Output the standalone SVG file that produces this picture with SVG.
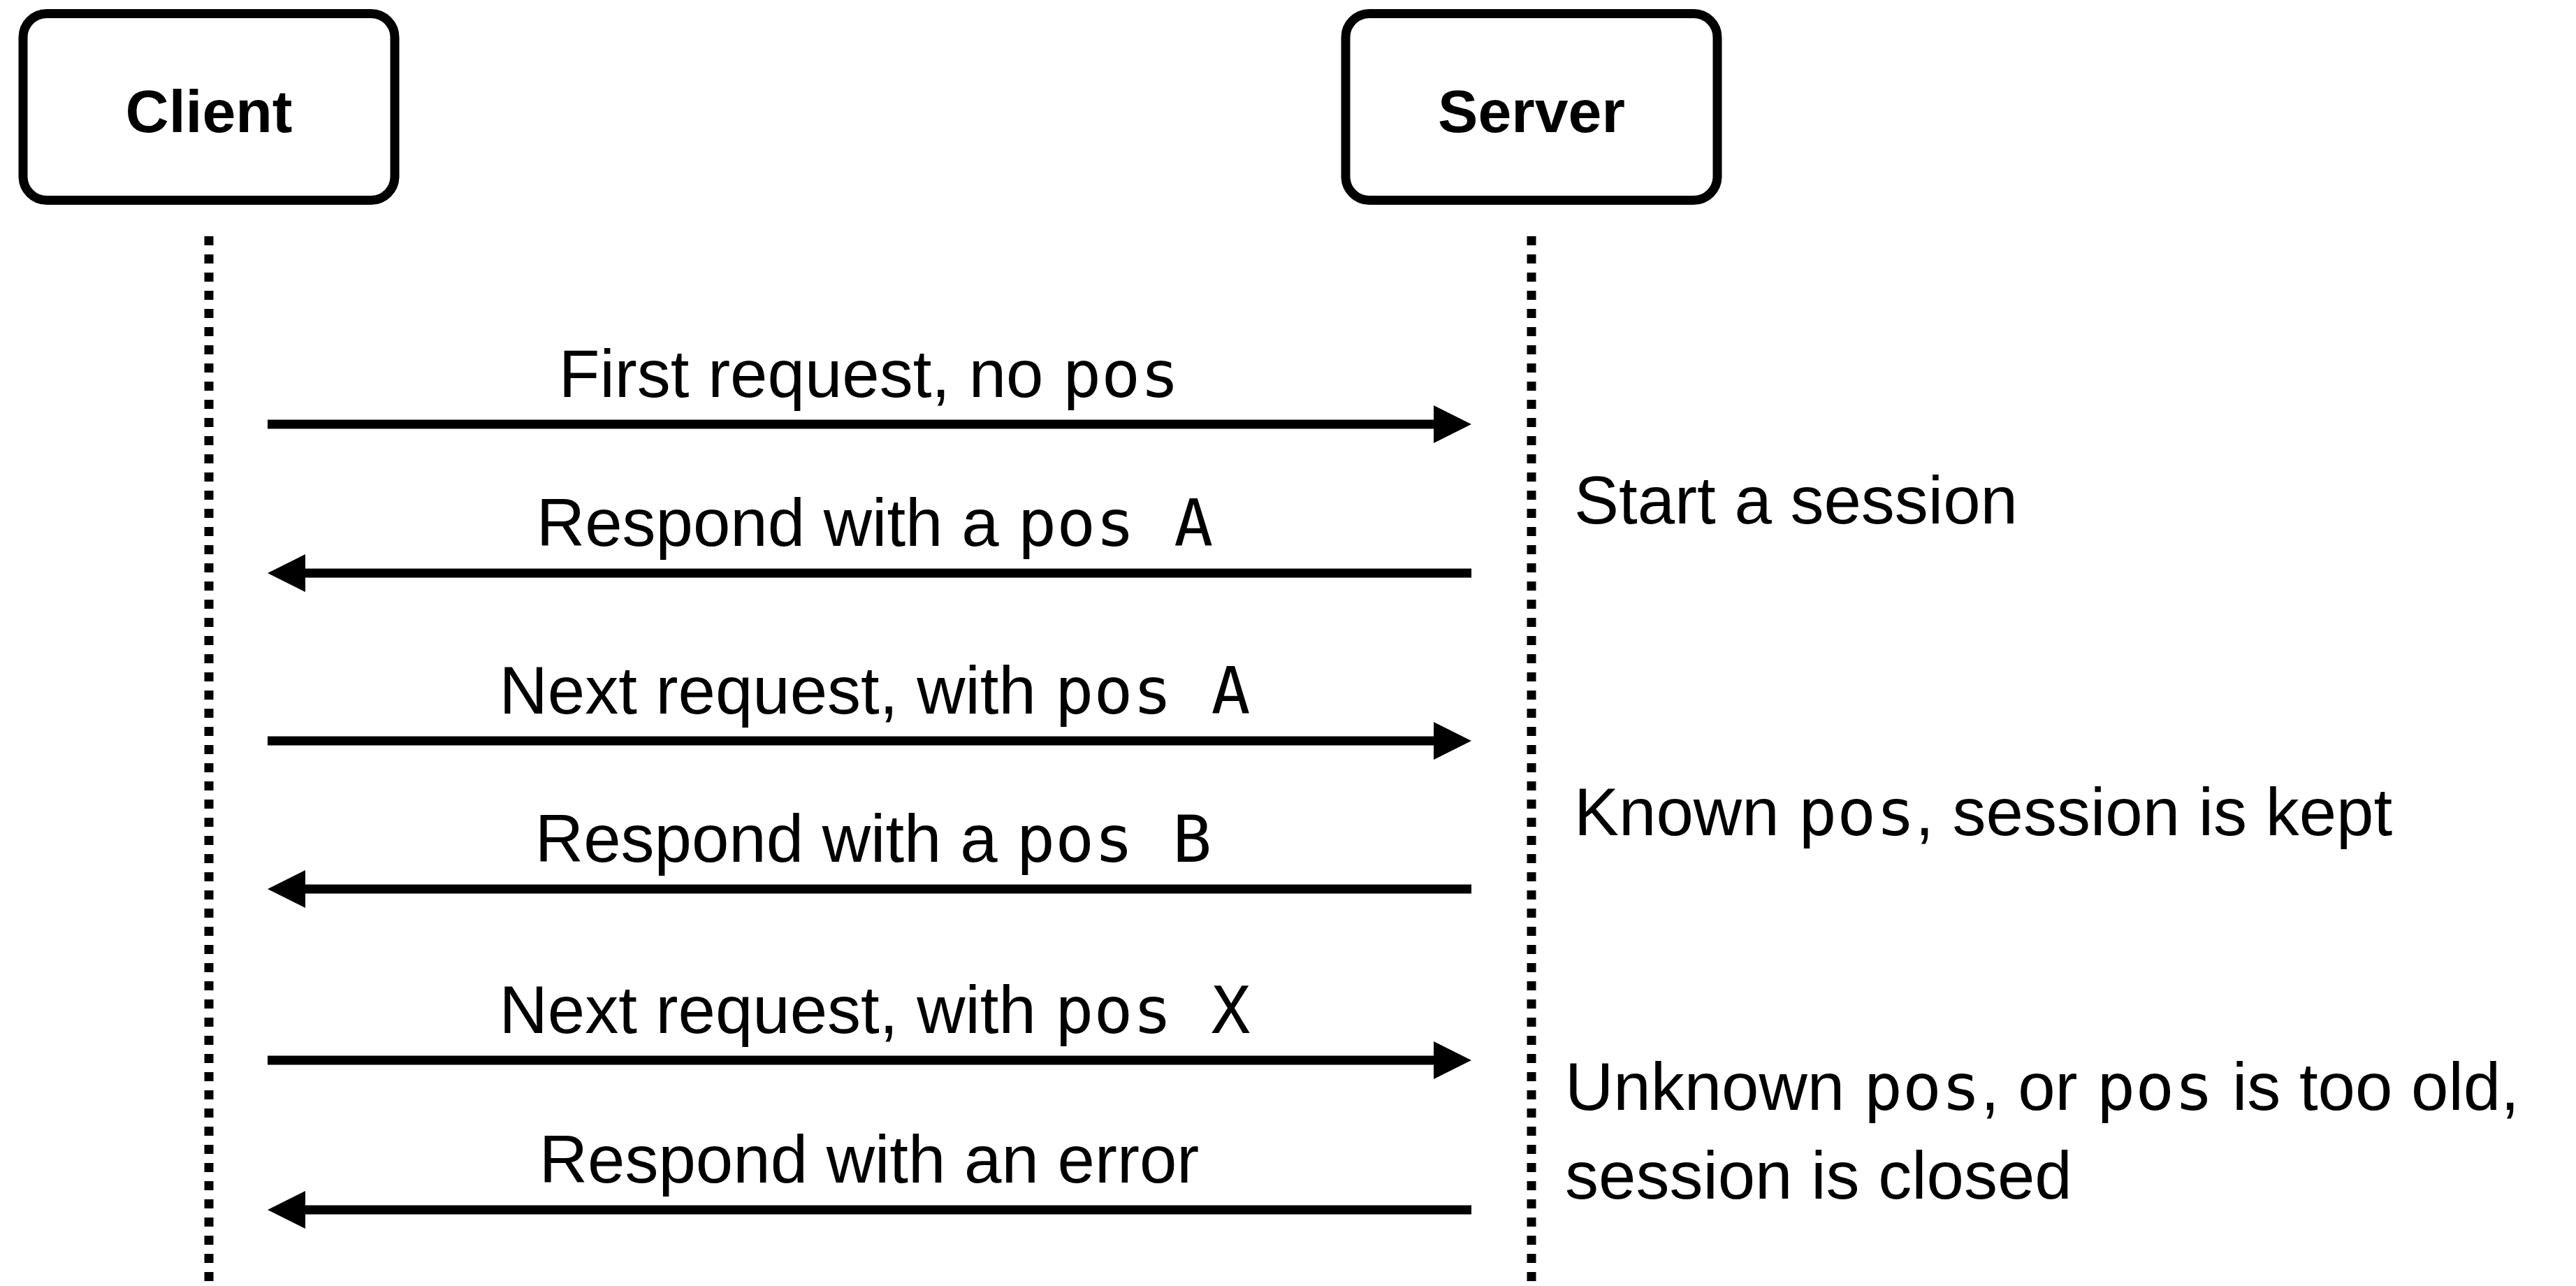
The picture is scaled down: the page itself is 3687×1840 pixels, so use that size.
<svg xmlns="http://www.w3.org/2000/svg" width="3687" height="1840" viewBox="0 0 3687 1840">
<style>
.box{fill:#fff;stroke:#000;stroke-width:13}
.nlabel{font-family:"Liberation Sans",Arial,sans-serif;font-weight:bold;font-size:86px;fill:#000;text-anchor:middle}
.life{stroke:#000;stroke-width:13;stroke-dasharray:13 13;fill:none}
.msg{stroke:#000;stroke-width:13;fill:none}
.lbl{font-family:"Liberation Sans",Arial,sans-serif;font-size:96px;fill:#000;text-anchor:middle}
.note{font-family:"Liberation Sans",Arial,sans-serif;font-size:96px;fill:#000}
.mono{font-family:"DejaVu Sans Mono","Liberation Mono",monospace;font-size:93px}
</style>
<defs>
<marker id="ah" markerUnits="userSpaceOnUse" markerWidth="54" markerHeight="54" viewBox="0 0 54 54" refX="8" refY="27" orient="auto">
<path d="M0,0 L54,27 L0,54 z" fill="#000"/>
</marker>
</defs>
<rect width="3687" height="1840" fill="#fff"/>
<g id="client">
<rect class="box" x="33" y="19.5" width="532" height="267" rx="34" ry="34"/>
<text class="nlabel" x="299" y="189">Client</text>
<line class="life" x1="299" y1="338" x2="299" y2="1840"/>
</g>
<g id="server">
<rect class="box" x="1926" y="19.5" width="532" height="267" rx="34" ry="34"/>
<text class="nlabel" x="2192" y="189">Server</text>
<line class="life" x1="2192" y1="338" x2="2192" y2="1840"/>
</g>
<g id="connectors">
<path class="msg" d="M383,607 H2060" marker-end="url(#ah)"/>
<path class="msg" d="M2106,820 H429" marker-end="url(#ah)"/>
<path class="msg" d="M383,1060 H2060" marker-end="url(#ah)"/>
<path class="msg" d="M2106,1272 H429" marker-end="url(#ah)"/>
<path class="msg" d="M383,1517 H2060" marker-end="url(#ah)"/>
<path class="msg" d="M2106,1731 H429" marker-end="url(#ah)"/>
<text class="lbl" x="1244" y="568">First request, no <tspan class="mono">pos</tspan></text>
<text class="lbl" x="1252" y="781">Respond with a <tspan class="mono">pos A</tspan></text>
<text class="lbl" x="1252" y="1021">Next request, with <tspan class="mono">pos A</tspan></text>
<text class="lbl" x="1250" y="1233">Respond with a <tspan class="mono">pos B</tspan></text>
<text class="lbl" x="1252" y="1478">Next request, with <tspan class="mono">pos X</tspan></text>
<text class="lbl" x="1244" y="1692">Respond with an error</text>
</g>
<g id="notes">
<text class="note" x="2253" y="749">Start a session</text>
<text class="note" x="2253" y="1195">Known <tspan class="mono">pos</tspan>, session is kept</text>
<text class="note" x="2240" y="1588">Unknown <tspan class="mono">pos</tspan>, or <tspan class="mono">pos</tspan> is too old,</text>
<text class="note" x="2240" y="1715">session is closed</text>
</g>
</svg>
